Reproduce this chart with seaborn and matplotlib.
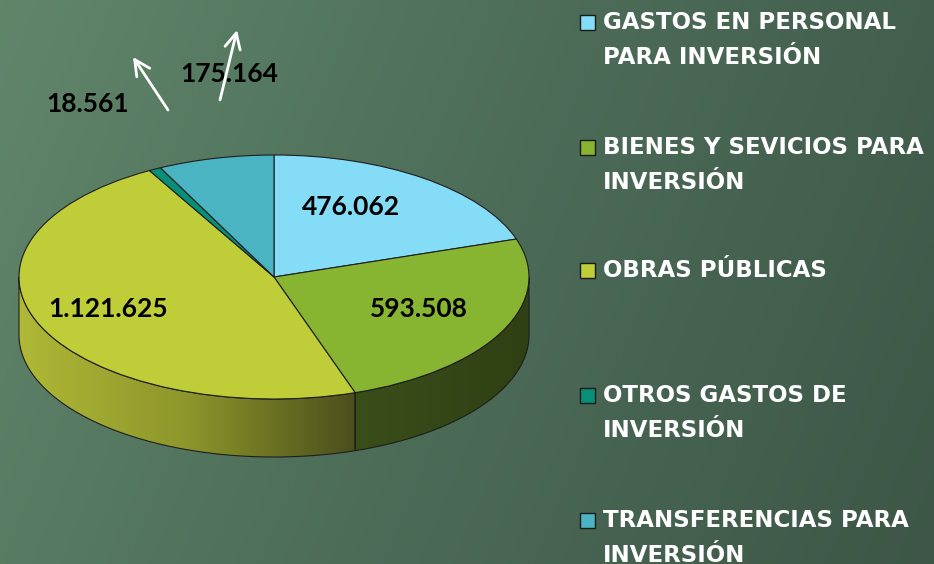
import numpy as np
import matplotlib
matplotlib.use("Agg")
import matplotlib.pyplot as plt
import seaborn as sns
from matplotlib.patches import Polygon, Rectangle
from matplotlib.transforms import Affine2D
from matplotlib.colors import LinearSegmentedColormap

categories = ["GASTOS EN PERSONAL\nPARA INVERSIÓN",
              "BIENES Y SEVICIOS PARA\nINVERSIÓN",
              "OBRAS PÚBLICAS",
              "OTROS GASTOS DE\nINVERSIÓN",
              "TRANSFERENCIAS PARA\nINVERSIÓN"]
values = [476062, 593508, 1121625, 18561, 175164]
value_labels = ["476.062", "593.508", "1.121.625", "18.561", "175.164"]
colors = ["#84dcf6", "#87b431", "#bfcd38", "#06907a", "#4ab4c3"]

sns.set_theme(style="white")
plt.rcParams['font.family'] = ['Lato', 'DejaVu Sans']

W, H = 934, 564
fig = plt.figure(figsize=(W / 100, H / 100), dpi=100)
ax = fig.add_axes([0, 0, 1, 1])

# background gradient
yy, xx = np.mgrid[0:1:200j, 0:1:300j]
g = 0.8 * xx + 0.2 * yy
bg = LinearSegmentedColormap.from_list("bg", ["#60866a", "#4c6c58", "#3d5647"])
ax.imshow(g, cmap=bg, extent=(0, W, H, 0), aspect='auto', zorder=0)

# pie geometry (pixels)
cx, cy, rx, ry, depth = 274, 277, 255, 122, 58

wedges, _ = ax.pie(values, colors=colors, startangle=90, counterclock=False,
                   wedgeprops=dict(edgecolor="#1e1e1e", linewidth=0.8))
tr = Affine2D().scale(rx, -ry).translate(cx, cy) + ax.transData
for w in wedges:
    w.set_transform(tr)
    w.set_zorder(4)

ax.set_xlim(0, W)
ax.set_ylim(H, 0)
ax.set_aspect('auto')
ax.axis('off')


def wall_poly(a, b, n=120):
    t = np.radians(np.linspace(a, b, n))
    xs = cx + rx * np.cos(t)
    ys = cy - ry * np.sin(t)
    top = np.column_stack([xs, ys])
    bot = np.column_stack([xs[::-1], ys[::-1] + depth])
    return np.vstack([top, bot])


side_styles = {1: ["#3a4e1a", "#2f4014"], 2: ["#b0b836", "#8c962b", "#4c4e1c"]}
for i, w in enumerate(wedges):
    a, b = sorted([w.theta1, w.theta2])
    for off in (0, 360, -360):
        lo, hi = max(a + off, 180), min(b + off, 360)
        if hi > lo:
            pts = wall_poly(lo, hi)
            poly = Polygon(pts, closed=True, facecolor="none",
                           edgecolor="#1e1e1e", linewidth=0.8, zorder=3)
            ax.add_patch(poly)
            cmap = LinearSegmentedColormap.from_list(
                "s%d" % i, side_styles.get(i, [colors[i], colors[i]]))
            x0, x1 = pts[:, 0].min(), pts[:, 0].max()
            y0, y1 = pts[:, 1].min(), pts[:, 1].max()
            im = ax.imshow(np.linspace(0, 1, 256)[None, :], cmap=cmap,
                           extent=(x0, x1, y1, y0), aspect='auto', zorder=2.5)
            fill = Polygon(pts, closed=True, transform=ax.transData)
            im.set_clip_path(fill)

ax.set_xlim(0, W)
ax.set_ylim(H, 0)

# value labels
lab_pos = [(351, 207), (419, 309), (108, 309), (88, 104), (229, 74)]
for (x, y), s in zip(lab_pos, value_labels):
    ax.text(x, y, s, ha="center", va="center", fontsize=19, fontweight="bold",
            color="black", zorder=6)

# arrows
for tail, head in [((168, 110), (133, 57)), ((220, 100), (237, 30))]:
    ax.annotate("", xy=head, xytext=tail, zorder=6,
                arrowprops=dict(arrowstyle="->", color="white", lw=2,
                                mutation_scale=28, shrinkA=0, shrinkB=0))

# legend
leg_y = [22, 147, 270, 395, 520]
for y, c, name in zip(leg_y, colors, categories):
    ax.add_patch(Rectangle((580, y - 7.5), 15, 15, facecolor=c,
                           edgecolor="#1a1a1a", linewidth=1, zorder=6))
    ax.text(603, y - 11, name, ha="left", va="top", fontsize=16.5,
            fontweight="bold", color="white", linespacing=1.68, zorder=6,
            family=["DejaVu Sans"])

fig.savefig("out.png", dpi=100)
